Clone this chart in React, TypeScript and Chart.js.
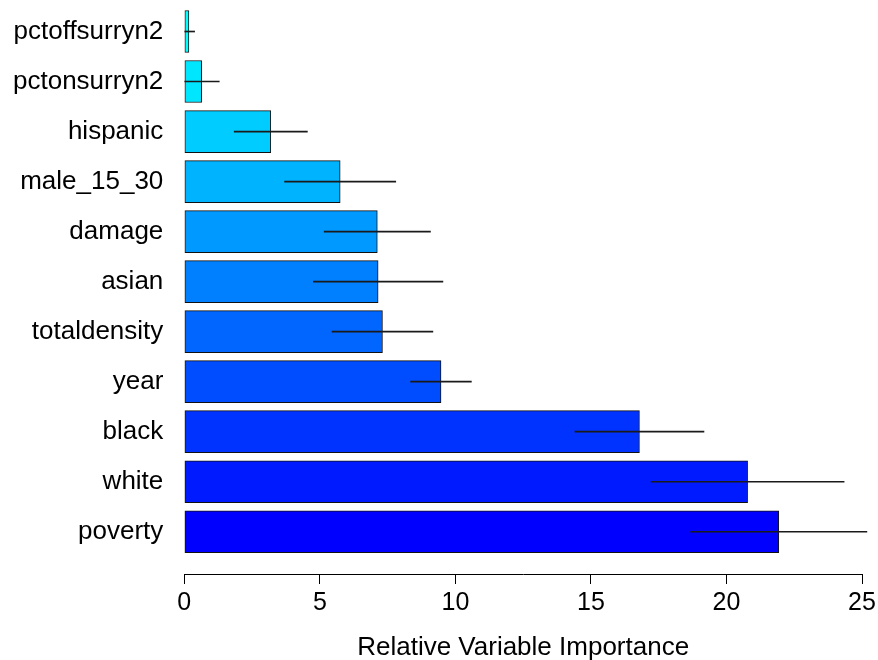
import React, { useEffect, useRef } from 'react';
import { Chart, registerables } from 'chart.js';
Chart.register(...registerables);

const variables = ['pctoffsurryn2', 'pctonsurryn2', 'hispanic', 'male_15_30', 'damage', 'asian', 'totaldensity', 'year', 'black', 'white', 'poverty'];
const importance = [0.17, 0.64, 3.19, 5.75, 7.12, 7.15, 7.31, 9.47, 16.79, 20.78, 21.93];
const importanceSd = [0.21, 0.65, 1.35, 2.05, 1.96, 2.39, 1.86, 1.12, 2.38, 3.56, 3.25];
const xTickValues = [0, 5, 10, 15, 20, 25];
const axisTitle = 'Relative Variable Importance';

const barColors = ['#00FFFF', '#00E6FF', '#00CCFF', '#00B3FF', '#0099FF', '#0080FF', '#0066FF', '#004DFF', '#0033FF', '#001AFF', '#0000FF'];
const FONT = "'Liberation Sans', Arial, Helvetica, sans-serif";

export default function App() {
  const ref = useRef<HTMLCanvasElement | null>(null);
  useEffect(() => {
    document.body.style.margin = '0';
    if (!ref.current) return;
    const barData = variables.map((_, i) => ({ x: importance[i], y: i }));
    const errData = variables.map((_, i) => ({
      x: [Math.max(0, importance[i] - importanceSd[i]), importance[i] + importanceSd[i]],
      y: i,
    }));
    const chart = new Chart(ref.current, {
      type: 'bar',
      data: {
        datasets: [
          {
            label: 'sd',
            data: errData as any,
            backgroundColor: '#1a1a1a',
            borderWidth: 0,
            barThickness: 1,
            grouped: false,
            clip: false as any,
            order: 0,
          },
          {
            label: 'importance',
            data: barData as any,
            backgroundColor: barColors,
            borderColor: '#111',
            borderWidth: 1,
            borderSkipped: false,
            barThickness: 42,
            grouped: false,
            order: 1,
          },
        ],
      },
      options: {
        indexAxis: 'y',
        animation: false,
        responsive: true,
        maintainAspectRatio: false,
        layout: { padding: { left: 0, right: 16, top: 0, bottom: 0 } },
        plugins: { legend: { display: false }, tooltip: { enabled: false } },
        scales: {
          y: {
            type: 'linear',
            reverse: true,
            offset: false,
            min: -0.63,
            max: 10.845,
            grid: { display: false, drawTicks: false, offset: false },
            border: { display: false },
            ticks: {
              color: '#000',
              font: { family: FONT, size: 26 },
              padding: 21,
              callback: (v: any) => variables[v as number] ?? '',
            },
            afterBuildTicks: (scale: any) => {
              scale.ticks = variables.map((_, i) => ({ value: i }));
            },
            afterFit: (scale: any) => {
              scale.width = 184.3;
              scale.paddingTop = 0;
              scale.paddingBottom = 0;
            },
          },
          x: {
            type: 'linear',
            position: 'bottom',
            min: 0,
            max: 25,
            grid: { drawOnChartArea: false, drawTicks: true, tickLength: 10, color: '#000', lineWidth: 1 },
            border: { display: true, color: '#000', width: 1 },
            ticks: {
              color: '#000',
              font: { family: FONT, size: 25 },
              padding: 4,
              autoSkip: false,
              maxRotation: 0,
            },
            afterBuildTicks: (scale: any) => {
              scale.ticks = xTickValues.map((v) => ({ value: v }));
            },
            afterFit: (scale: any) => {
              scale.height = 86;
              scale.paddingLeft = 0;
              scale.paddingRight = 0;
            },
            title: {
              display: true,
              text: axisTitle,
              color: '#000',
              font: { family: FONT, size: 26 },
              padding: { top: 0, bottom: -3 },
            },
          },
        },
      },
    });
    return () => chart.destroy();
  }, []);
  return (
    <div style={{ position: 'relative', width: 878, height: 660 }}>
      <canvas ref={ref} />
    </div>
  );
}
